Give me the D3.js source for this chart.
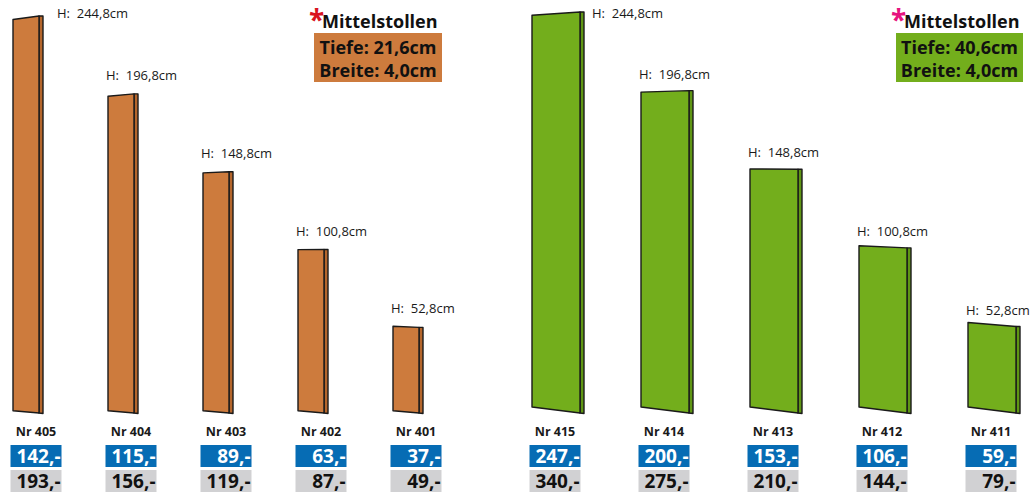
<!DOCTYPE html>
<html>
<head>
<meta charset="utf-8">
<script src="https://cdn.jsdelivr.net/npm/d3@7"></script>
<style>
  html, body { margin: 0; padding: 0; background: #fff; }
  svg { display: block; }
  text { font-family: "Open Sans", "DejaVu Sans", sans-serif; }
</style>
</head>
<body>
<svg id="chart" width="1030" height="494"></svg>
<script>
// ---- data ----
const categoriesA = ["Nr 405", "Nr 404", "Nr 403", "Nr 402", "Nr 401"];
const categoriesB = ["Nr 415", "Nr 414", "Nr 413", "Nr 412", "Nr 411"];
const heightsA = [244.8, 196.8, 148.8, 100.8, 52.8];
const heightsB = [244.8, 196.8, 148.8, 100.8, 52.8];
const priceBlueA = [142, 115, 89, 63, 37];
const priceGrayA = [193, 156, 119, 87, 49];
const priceBlueB = [247, 200, 153, 106, 59];
const priceGrayB = [340, 275, 210, 144, 79];
const infoTitle = "Mittelstollen";
const infoA = ["Tiefe: 21,6cm", "Breite: 4,0cm"];
const infoB = ["Tiefe: 40,6cm", "Breite: 4,0cm"];

const fmtH = v => "H:\u00a0 " + d3.format(".1f")(v).replace(".", ",") + "cm";
const fmtP = v => v + ",-";

const svg = d3.select("#chart");

const groups = [
  {
    cats: categoriesA, heights: heightsA, blue: priceBlueA, gray: priceGrayA,
    x: d3.scalePoint().domain(categoriesA).range([13, 393]),
    y: d3.scaleLinear().domain([0, 244.8]).range([413, 16]),
    fw: 26, sw: 4, slantA: 3.73, slantB: 0.0146,
    fill: "#cd7b3d", side: "#b5662c", labelDy: 14, tallLabelDx: 14,
    star: "#d9141f", info: infoA, box: {x: 314, w: 128}
  },
  {
    cats: categoriesB, heights: heightsB, blue: priceBlueB, gray: priceGrayB,
    x: d3.scalePoint().domain(categoriesB).range([532, 968]),
    y: d3.scaleLinear().domain([0, 244.8]).range([413, 12]),
    fw: 48, sw: 4, slantA: 3.6, slantB: 0.0234,
    fill: "#73ae1c", side: "#5f9614", labelDy: 12, tallLabelDx: 8,
    star: "#e6147f", info: infoB, box: {x: 896, w: 127}
  }
];

groups.forEach(g => {
  const slant = yy => g.slantA - g.slantB * yy;
  const yBase = g.y(0);
  const maxH = d3.max(g.heights);
  const data = g.cats.map((c, i) => ({c, h: g.heights[i], b: g.blue[i], p: g.gray[i]}));

  const bars = svg.append("g").selectAll("g").data(data).join("g");

  // side face
  bars.append("path")
    .attr("d", d => {
      const x1 = g.x(d.c) + g.fw, yt = g.y(d.h);
      return `M${x1},${yt}L${x1 + g.sw},${yt}L${x1 + g.sw},${yBase + 0.5}L${x1},${yBase}Z`;
    })
    .attr("fill", g.side).attr("stroke", "#1a1a1a").attr("stroke-width", 1.4)
    .attr("stroke-linejoin", "round");

  // front face
  bars.append("path")
    .attr("d", d => {
      const x0 = g.x(d.c), x1 = x0 + g.fw, yt = g.y(d.h);
      return `M${x0},${yt + slant(yt)}L${x1},${yt}L${x1},${yBase}L${x0},${yBase + slant(yBase)}Z`;
    })
    .attr("fill", g.fill).attr("stroke", "#1a1a1a").attr("stroke-width", 1.4)
    .attr("stroke-linejoin", "round");

  // height labels
  bars.append("text")
    .attr("x", d => d.h === maxH ? g.x(d.c) + g.fw + g.sw + g.tallLabelDx : g.x(d.c) - 2)
    .attr("y", d => d.h === maxH ? 18 : g.y(d.h) - g.labelDy)
    .attr("font-size", 13).attr("fill", "#1a1a1a")
    .text(d => fmtH(d.h));

  // Nr labels
  const cx = d => g.x(d.c) + 23;
  bars.append("text")
    .attr("x", cx).attr("y", 436).attr("text-anchor", "middle")
    .attr("font-size", 12.5).attr("font-weight", 700).attr("fill", "#1a1a1a")
    .text(d => d.c);

  const bw = 51;
  bars.append("rect")
    .attr("x", d => cx(d) - bw / 2).attr("y", 445).attr("width", bw).attr("height", 22)
    .attr("fill", "#066cb4");
  bars.append("text")
    .attr("x", d => cx(d) + bw / 2 - 1).attr("y", 463).attr("text-anchor", "end")
    .attr("font-size", 19).attr("font-weight", 700).attr("fill", "#fff")
    .text(d => fmtP(d.b));
  bars.append("rect")
    .attr("x", d => cx(d) - bw / 2).attr("y", 470).attr("width", bw).attr("height", 22)
    .attr("fill", "#d1d1d3");
  bars.append("text")
    .attr("x", d => cx(d) + bw / 2 - 1).attr("y", 488).attr("text-anchor", "end")
    .attr("font-size", 19).attr("font-weight", 700).attr("fill", "#111")
    .text(d => fmtP(d.p));

  // info block
  const info = svg.append("g");
  info.append("text")
    .attr("x", g.box.x - 5).attr("y", 30)
    .attr("font-size", 28).attr("font-weight", 700).attr("fill", g.star)
    .text("*");
  info.append("text")
    .attr("x", g.box.x + 8).attr("y", 28)
    .attr("font-size", 18).attr("font-weight", 700).attr("fill", "#111")
    .text(infoTitle);
  info.append("rect")
    .attr("x", g.box.x).attr("y", 33).attr("width", g.box.w).attr("height", 49)
    .attr("fill", g.fill);
  info.selectAll("text.line").data(g.info).join("text")
    .attr("class", "line")
    .attr("x", g.box.x + g.box.w / 2).attr("y", (d, i) => 54 + i * 23)
    .attr("text-anchor", "middle")
    .attr("font-size", 18).attr("font-weight", 700).attr("fill", "#111")
    .text(d => d);
});
</script>
</body>
</html>
